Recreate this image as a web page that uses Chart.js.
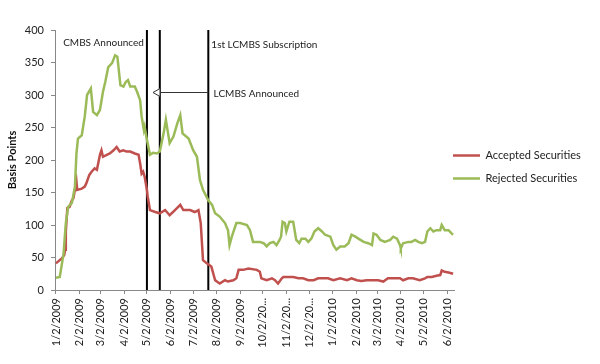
<!DOCTYPE html>
<html>
<head>
<meta charset="utf-8">
<script src="https://cdn.jsdelivr.net/npm/chart.js@4.4.1/dist/chart.umd.min.js"></script>
<style>
html,body{margin:0;padding:0;background:#fff;}
#wrap{width:600px;height:364px;}
</style>
</head>
<body>
<div id="wrap"><canvas id="c" width="600" height="364"></canvas></div>
<script>
// Days are counted from 1/2/2009 (day 0)
const tickDays   = [0,31,59,90,120,151,181,212,243,273,304,334,365,396,424,455,485,516];
const tickLabels = ['1/2/2009','2/2/2009','3/2/2009','4/2/2009','5/2/2009','6/2/2009','7/2/2009','8/2/2009','9/2/2009','10/2/20...','11/2/20...','12/2/20...','1/2/2010','2/2/2010','3/2/2010','4/2/2010','5/2/2010','6/2/2010'];

const accDays = [0,3,8,11,12,13,15,18,21,23,25,27,28,34,38,40,44,47,51,54,58,60,62,67,71,76,80,84,89,93,98,104,109,111,113,115,117,120,121,124,131,137,144,150,157,164,168,177,183,188,191,194,199,205,210,216,223,227,234,238,241,247,254,265,269,271,278,285,289,293,298,300,307,313,320,326,333,340,346,353,359,366,375,384,390,397,403,410,419,425,432,438,445,454,458,465,471,480,487,490,496,502,507,509,513,518,524];
const accVals = [41,44,49,54,62,90,126,128,138,141,154,167,154,156,159,164,177,182,187,185,208,215,205,208,210,215,220,213,215,213,213,210,208,195,179,182,174,154,144,123,120,118,123,115,123,131,123,123,120,123,103,46,41,36,15,10,15,13,15,18,31,31,33,31,28,18,15,18,15,10,18,20,20,20,18,18,15,15,18,18,18,15,18,15,18,15,14,15,15,15,13,18,18,18,15,18,18,15,18,20,20,22,23,30,28,27,25];

const rejDays = [0,5,10,13,16,21,25,27,29,34,38,41,46,49,54,58,62,65,69,74,78,81,85,89,92,95,98,104,107,111,113,116,117,120,124,128,133,137,142,145,150,155,160,164,167,175,181,186,190,194,201,206,210,216,223,227,229,232,238,243,252,256,260,265,269,274,278,282,287,291,295,297,299,302,304,308,313,317,321,324,329,333,337,341,346,351,355,362,366,370,375,381,386,390,395,399,406,412,417,419,423,428,434,441,445,450,454,455,458,465,469,474,478,483,487,490,494,498,502,507,509,513,518,522,524];
const rejVals = [19,20,56,103,128,134,159,210,233,238,267,300,310,274,269,277,305,320,343,349,361,359,315,313,320,323,313,313,305,292,267,246,251,231,208,211,210,213,241,262,226,236,256,269,241,233,215,205,169,154,138,131,118,113,103,92,69,82,103,103,100,92,74,74,74,72,67,72,74,69,77,82,105,103,90,105,105,77,72,79,79,74,79,90,95,90,85,82,69,62,67,67,72,85,82,79,74,72,69,87,85,77,74,77,82,79,69,64,72,74,74,77,74,72,74,90,95,90,92,92,100,92,92,87,85];

const eventDays = [120,137,201];
const notes = [
  {text:'CMBS Announced', day:9.5, val:381},
  {text:'1st LCMBS Subscription', day:205, val:377},
  {text:'LCMBS Announced', day:208, val:302}
];
const arrow = {from:201, to:128, val:304};

const pts = (d, v) => d.map((x, i) => ({x: x, y: v[i]}));

const datasets = [
  {label:'Accepted Securities', data: pts(accDays, accVals), borderColor:'#C0504D', backgroundColor:'#C0504D', borderWidth:2.5, pointRadius:0, tension:0, order:1},
  {label:'Rejected Securities', data: pts(rejDays, rejVals), borderColor:'#9BBB59', backgroundColor:'#9BBB59', borderWidth:2.5, pointRadius:0, tension:0, order:0}
];
eventDays.forEach(d => datasets.push({label:'event', data:[{x:d,y:0},{x:d,y:400}], borderColor:'#000', borderWidth:2, pointRadius:0, order:2}));

const annotPlugin = {
  id:'annot',
  afterLayout(chart){
    const lg = chart.legend;
    if (!lg) return;
    const w = lg.right - lg.left, h = lg.bottom - lg.top;
    lg.left = 441; lg.right = lg.left + w;
    lg.top = 138; lg.bottom = lg.top + h;
  },
  afterDatasetsDraw(chart){
    const {ctx, scales:{x, y}} = chart;
    ctx.save();
    ctx.font = '10px Lato';
    ctx.fillStyle = '#222';
    ctx.textAlign = 'left';
    ctx.textBaseline = 'middle';
    notes.forEach(n => ctx.fillText(n.text, x.getPixelForValue(n.day), y.getPixelForValue(n.val)));
    const x0 = x.getPixelForValue(arrow.from), x1 = x.getPixelForValue(arrow.to), yy = Math.round(y.getPixelForValue(arrow.val)) + 0.5;
    ctx.strokeStyle = '#333';
    ctx.lineWidth = 1;
    ctx.beginPath(); ctx.moveTo(x0, yy); ctx.lineTo(x1 + 7, yy); ctx.stroke();
    ctx.beginPath(); ctx.moveTo(x1, yy); ctx.lineTo(x1 + 7, yy - 4); ctx.lineTo(x1 + 7, yy + 4); ctx.closePath();
    ctx.fillStyle = '#fff'; ctx.fill(); ctx.stroke();
    ctx.restore();
  }
};

Chart.defaults.font.family = 'Lato';
Chart.defaults.color = '#222';

new Chart(document.getElementById('c'), {
  type:'line',
  data:{datasets},
  options:{
    responsive:false,
    animation:false,
    devicePixelRatio:1,
    layout:{padding:{top:30, right:0, left:0, bottom:0}},
    plugins:{
      tooltip:{enabled:false},
      legend:{
        position:'right',
        align:'start',
        maxWidth:146,
        labels:{
          usePointStyle:true,
          pointStyle:'line',
          pointStyleWidth:27,
          boxHeight:11,
          padding:12,
          font:{size:11},
          color:'#222',
          filter:(item) => item.datasetIndex < 2,
          sort:(a, b) => a.datasetIndex - b.datasetIndex
        }
      }
    },
    scales:{
      x:{
        type:'linear',
        min:-1.3, max:525.2,
        afterFit(s){ s.height = 74; },
        afterBuildTicks(s){ s.ticks = tickDays.map(v => ({value:v})); },
        ticks:{
          autoSkip:false, minRotation:90, maxRotation:90, padding:4,
          font:{size:11}, color:'#222',
          callback:(v) => { const i = tickDays.indexOf(v); return i >= 0 ? tickLabels[i] : ''; }
        },
        grid:{display:true, drawOnChartArea:false, drawTicks:true, tickLength:4, color:'#888'},
        border:{display:true, color:'#888', width:1}
      },
      y:{
        min:0, max:400,
        afterFit(s){ s.width = 55; },
        ticks:{stepSize:50, padding:7, font:{size:11}, color:'#222'},
        title:{display:true, text:'Basis Points', font:{size:11, weight:'bold'}, color:'#111', padding:{top:6, bottom:0}},
        grid:{display:true, drawOnChartArea:false, drawTicks:true, tickLength:4, color:'#888'},
        border:{display:true, color:'#888', width:1}
      }
    }
  },
  plugins:[annotPlugin]
});
</script>
</body>
</html>
